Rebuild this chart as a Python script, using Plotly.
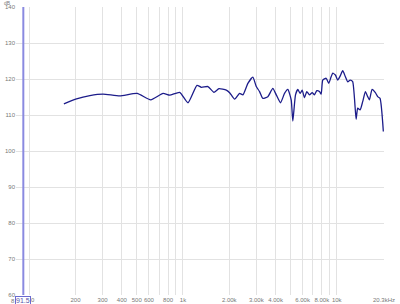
import plotly.graph_objects as go
import math

freq_hz = [168, 203, 248, 302, 388, 503, 617, 742, 820, 952, 1078, 1233, 1317, 1453,
           1590, 1713, 1913, 2011, 2167, 2335, 2453, 2643, 2848, 2997, 3148, 3308,
           3564, 3840, 4042, 4310, 4575, 4806, 5057, 5180, 5393, 5582, 5785, 5961,
           6170, 6387, 6649, 6924, 7166, 7416, 7723, 7921, 8113, 8533, 8874, 9196,
           9419, 9808, 10150, 10522, 10940, 11390, 11790, 12220, 12700, 13370, 13690,
           14190, 14750, 15360, 15900, 16310, 16980, 17840, 18460, 19130, 20100]
spl_db = [113.1, 114.5, 115.4, 115.8, 115.3, 116.0, 114.2, 116.0, 115.5, 116.3, 113.4,
          118.25, 117.7, 117.9, 116.3, 117.3, 116.9, 116.2, 114.4, 116.0, 115.6, 118.8,
          120.5, 117.9, 116.5, 114.6, 115.1, 117.4, 115.6, 113.4, 116.0, 117.1, 114.2,
          108.3, 115.6, 117.1, 116.0, 116.9, 114.8, 116.5, 115.6, 116.2, 115.6, 116.75,
          116.5, 115.8, 119.7, 120.2, 118.8, 120.6, 121.6, 121.1, 119.7, 120.8, 122.3,
          120.6, 119.2, 119.7, 119.25, 108.8, 111.9, 111.4, 113.7, 116.5, 115.1, 114.2,
          117.1, 116.2, 115.1, 114.6, 105.4]

x_tick_vals = [100, 200, 300, 400, 500, 600, 700, 800, 900, 1000, 2000, 3000, 4000,
               5000, 6000, 7000, 8000, 9000, 10000, 20300]
x_tick_text = ["100", "200", "300", "400", "500", "600", "", "800", "", "1k",
               "2.00k", "3.00k", "4.00k", "", "6.00k", "", "8.00k", "", "10k", "20.3kHz"]
y_tick_vals = [60, 70, 80, 90, 100, 110, 120, 130, 140]
cursor_hz = 91.5
cursor_label = "91.5"
y_unit = "dB"
left_edge_label = "8"

FONT = "Liberation Sans"

fig = go.Figure()
fig.add_trace(go.Scatter(
    x=freq_hz, y=spl_db, mode="lines",
    line=dict(color="#1c1c8a", width=1.3, shape="spline", smoothing=0.5),
    hoverinfo="skip", showlegend=False,
))

fig.add_shape(type="line", xref="x", yref="paper", x0=cursor_hz, x1=cursor_hz,
              y0=0, y1=1, line=dict(color="#8a8ae0", width=2))
fig.add_annotation(x=0, xref="paper", xanchor="right", xshift=1, y=0, yref="paper",
                   yanchor="top", yshift=-1, text=left_edge_label, showarrow=False,
                   font=dict(size=6, color="#777777", family=FONT))
fig.add_annotation(x=math.log10(cursor_hz), xref="x", y=0, yref="paper",
                   yanchor="top", yshift=-1, text=cursor_label, showarrow=False,
                   font=dict(size=7, color="#5555aa", family=FONT),
                   bordercolor="#6a6ad0", borderwidth=1, borderpad=0,
                   bgcolor="white")
fig.add_annotation(x=0, xref="paper", xanchor="right", xshift=-3, y=1, yref="paper",
                   yanchor="middle", yshift=4, text=y_unit, showarrow=False,
                   font=dict(size=5, color="#777777", family=FONT))

fig.update_layout(
    width=400, height=304,
    margin=dict(l=16, r=16, t=7, b=9, autoexpand=False),
    paper_bgcolor="white", plot_bgcolor="white",
    font=dict(family=FONT, size=6, color="#777777"),
    xaxis=dict(type="log", range=[math.log10(82), math.log10(20300)],
               tickvals=x_tick_vals, ticktext=x_tick_text, tickangle=0,
               automargin=False,
               showgrid=True, gridcolor="#e2e2e2", gridwidth=1,
               zeroline=False, showline=False, ticks="",
               tickfont=dict(size=6, color="#777777", family=FONT)),
    yaxis=dict(range=[60, 140], tickvals=y_tick_vals, automargin=False,
               showgrid=True, gridcolor="#e2e2e2", gridwidth=1,
               zeroline=False, showline=False, ticks="",
               tickfont=dict(size=6, color="#777777", family=FONT)),
)

fig.write_html("out.html")
